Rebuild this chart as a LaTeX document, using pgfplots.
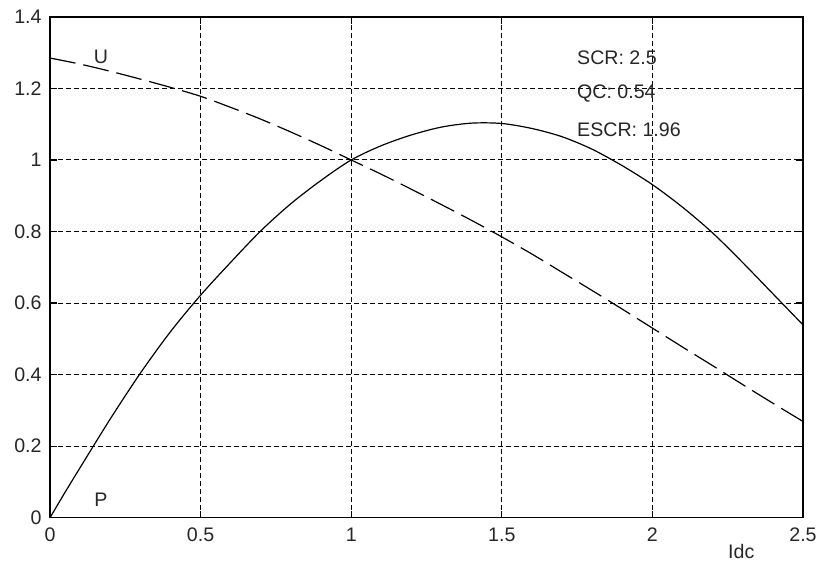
\documentclass[border=0pt]{standalone}
\usepackage{pgfplots}
\pgfplotsset{compat=1.18}
\usepackage{fontspec}
\setmainfont{Liberation Sans}
\begin{document}
\begin{tikzpicture}
\begin{axis}[
  scale only axis,
  width=376.5pt, height=250.4pt,
  at={(0,0)}, anchor=south west,
  xmin=0, xmax=2.5, ymin=0, ymax=1.4,
  xtick={0,0.5,1,1.5,2,2.5},
  ytick={0,0.2,0.4,0.6,0.8,1,1.2,1.4},
  xticklabels={0,0.5,1,1.5,2,2.5},
  yticklabels={0,0.2,0.4,0.6,0.8,1,1.2,1.4},
  grid=major,
  major grid style={black, line width=0.5pt, dash pattern=on 2.5pt off 1.5pt},
  axis line style={black, line width=0.8pt},
  tick style={black, line width=0.6pt},
  tick align=inside,
  major tick length=3.5pt,
  tick label style={font=\fontsize{9.8}{11}\selectfont, text=black!85},
  xticklabel style={inner sep=0pt, yshift=-5pt},
  yticklabel style={inner sep=0pt, xshift=-4pt},
  clip=false,
]
\addplot[black, line width=0.6pt, smooth] coordinates {
(0,0) (0.05,0.071) (0.1,0.14) (0.2,0.276) (0.3,0.404) (0.4,0.52) (0.5,0.622) (0.6,0.714)
(0.7,0.802) (0.8,0.878) (0.9,0.943) (1.0,1.0) (1.1,1.04) (1.2,1.07) (1.3,1.092)
(1.4,1.103) (1.5,1.102) (1.6,1.088) (1.7,1.065) (1.8,1.03) (1.9,0.984) (2.0,0.931)
(2.1,0.868) (2.2,0.796) (2.3,0.713) (2.4,0.626) (2.5,0.539)
};
\addplot[black, line width=0.6pt, smooth, dash pattern=on 13pt off 4pt] coordinates {
(0,1.285) (0.1,1.268) (0.2,1.248) (0.3,1.226) (0.4,1.203) (0.5,1.178) (0.6,1.147)
(0.7,1.114) (0.8,1.078) (0.9,1.04) (1.0,1.0) (1.1,0.96) (1.2,0.918) (1.3,0.875)
(1.4,0.831) (1.5,0.785) (1.6,0.737) (1.7,0.686) (1.8,0.635) (1.9,0.583) (2.0,0.530)
(2.1,0.477) (2.2,0.425) (2.3,0.372) (2.4,0.32) (2.5,0.269)
};
\node[font=\fontsize{9.8}{11}\selectfont, text=black!85] at (axis cs:0.169,1.287) {U};
\node[font=\fontsize{9.8}{11}\selectfont, text=black!85] at (axis cs:0.169,0.051) {P};
\node[font=\fontsize{9.8}{11}\selectfont, text=black!85, anchor=west, inner sep=0pt] at (axis cs:1.749,1.285) {SCR: 2.5};
\node[font=\fontsize{9.8}{11}\selectfont, text=black!85, anchor=west, inner sep=0pt] at (axis cs:1.749,1.187) {QC: 0.54};
\node[font=\fontsize{9.8}{11}\selectfont, text=black!85, anchor=west, inner sep=0pt] at (axis cs:1.749,1.085) {ESCR: 1.96};
\node[font=\fontsize{9.8}{11}\selectfont, text=black!85] at (rel axis cs:0.918,0) [yshift=-17pt] {Idc};
\end{axis}
\path[use as bounding box] (-25pt,-22.15pt) rectangle (384pt,258.85pt);
\end{tikzpicture}
\end{document}
